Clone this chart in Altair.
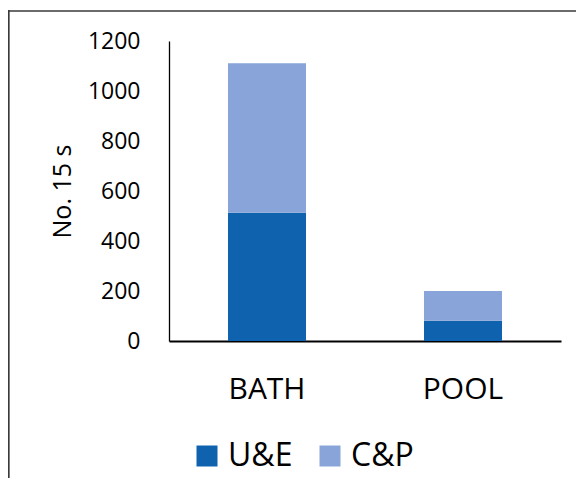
import altair as alt
import pandas as pd

categories = ["BATH", "POOL"]
series = ["U&E", "C&P"]
ue_values = [513, 81]
cp_values = [598, 119]
colors = ["#0F62AE", "#89A4D8"]
y_ticks = [0, 200, 400, 600, 800, 1000, 1200]

rows = []
for i, c in enumerate(categories):
    rows.append({"cat": c, "series": series[0], "value": ue_values[i], "ord": 0})
    rows.append({"cat": c, "series": series[1], "value": cp_values[i], "ord": 1})
df = pd.DataFrame(rows)

FONT = "Open Sans"

bars = alt.Chart(df).mark_bar().encode(
    x=alt.X("cat:N", sort=categories,
            scale=alt.Scale(paddingInner=0.602, paddingOuter=0.301),
            axis=alt.Axis(title=None, labelAngle=0, labelFontSize=30, labelFont=FONT,
                          labelColor="#000000", labelPadding=33, ticks=False,
                          domainColor="#000000", domainWidth=1.8)),
    y=alt.Y("value:Q", stack="zero",
            scale=alt.Scale(domain=[0, 1200], nice=False),
            axis=alt.Axis(values=y_ticks, format="d", grid=False, ticks=False, labelFontSize=23,
                          labelFont=FONT, labelColor="#000000", labelPadding=29,
                          domainColor="#000000", domainWidth=1.3,
                          title="No. 15 s", titleFont=FONT, titleFontSize=25,
                          titleFontWeight="normal", titleColor="#000000",
                          titleAngle=270, titleX=-107, titleY=150,
                          titleAlign="center", titleBaseline="middle")),
    color=alt.Color("series:N", sort=series,
                    scale=alt.Scale(domain=series, range=colors),
                    legend=alt.Legend(title=None, orient="none", direction="horizontal",
                                      legendX=22, legendY=399,
                                      symbolType="square", symbolSize=441,
                                      symbolStrokeWidth=0, symbolOpacity=1,
                                      labelFontSize=32, labelFont=FONT,
                                      labelColor="#000000", labelOffset=5,
                                      columnPadding=21, padding=0)),
    order=alt.Order("ord:Q", sort="ascending"),
)

border_df = pd.DataFrame({"a": [0]})
top_line = alt.Chart(border_df).mark_rule(color="#3a3a3a", strokeWidth=1.7).encode(
    x=alt.value(-161), x2=alt.value(407), y=alt.value(-30))
left_line = alt.Chart(border_df).mark_rule(color="#3a3a3a", strokeWidth=1.7).encode(
    x=alt.value(-160.2), y=alt.value(-31), y2=alt.value(440))

chart = alt.layer(bars, top_line, left_line).properties(
    width=392, height=300,
    autosize=alt.AutoSizeParams(type="none"),
    padding={"left": 161, "top": 33, "right": 15, "bottom": 137},
).configure_view(stroke=None)

chart.save("out.html", embed_options={"renderer": "svg", "actions": False})
